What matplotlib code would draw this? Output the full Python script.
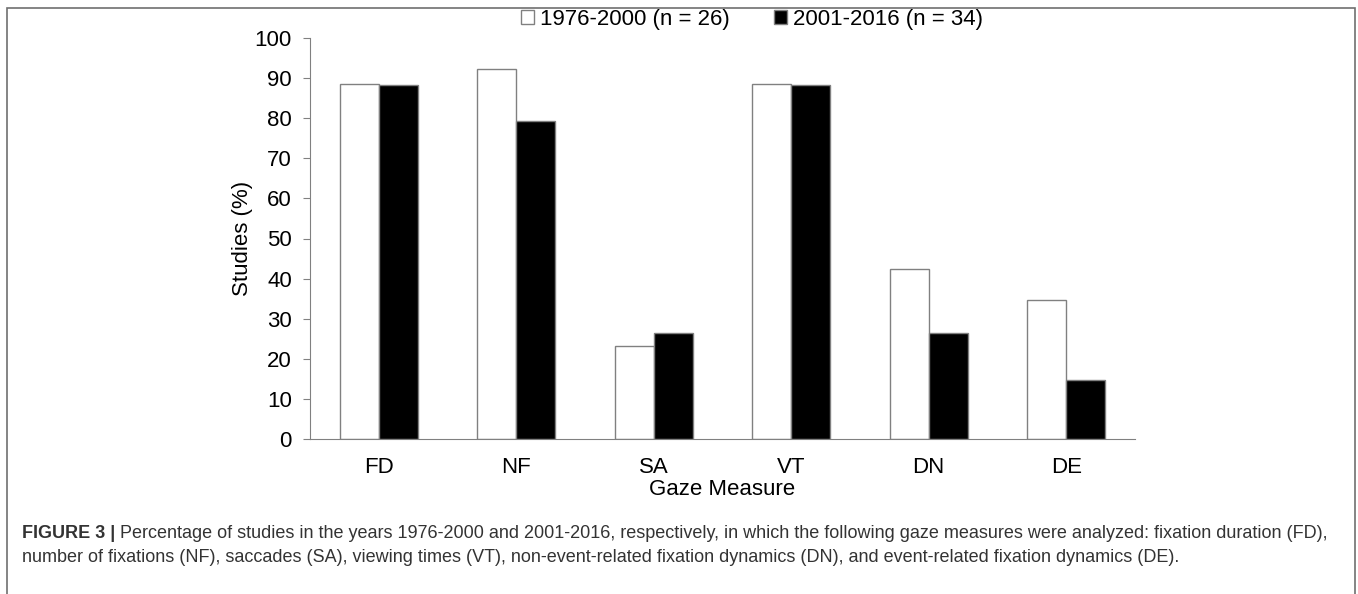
import matplotlib.pyplot as plt
import numpy as np
from matplotlib.patches import Rectangle

plt.rcParams['font.family'] = ['Liberation Sans', 'DejaVu Sans']

measures = ['FD', 'NF', 'SA', 'VT', 'DN', 'DE']
early = [88.5, 92.3, 23.1, 88.5, 42.3, 34.6]   # 1976-2000 (n = 26)
late = [88.2, 79.4, 26.5, 88.2, 26.5, 14.7]    # 2001-2016 (n = 34)
series_labels = ['1976-2000 (n = 26)', '2001-2016 (n = 34)']

W, H = 1358, 594
fig = plt.figure(figsize=(W / 100, H / 100), dpi=100)
ax = fig.add_axes([310 / W, 1 - 439 / H, 825 / W, 401 / H])

x = np.arange(len(measures))
w = 0.285
edge = '#808080'
ax.bar(x - w / 2, early, w, color='white', edgecolor=edge, linewidth=1, label=series_labels[0])
ax.bar(x + w / 2, late, w, color='black', edgecolor=edge, linewidth=1, label=series_labels[1])

ax.set_xlim(-0.5, len(measures) - 0.5)
ax.set_ylim(0, 100)
ax.set_yticks(range(0, 101, 10))
ax.set_xticks(x)
ax.set_xticklabels(measures)
ax.tick_params(axis='both', labelsize=16, colors='black')
ax.tick_params(axis='y', length=5, color=edge, pad=8)
ax.tick_params(axis='x', length=0, pad=13)
for s in ['top', 'right']:
    ax.spines[s].set_visible(False)
for s in ['left', 'bottom']:
    ax.spines[s].set_color(edge)
ax.set_xlabel('Gaze Measure', fontsize=16, labelpad=1)
ax.set_ylabel('Studies (%)', fontsize=16, labelpad=1)

ax.legend(loc='center', bbox_to_anchor=(752 / W, 1 - 19 / H), bbox_transform=fig.transFigure,
          ncol=2, frameon=False, fontsize=16, handlelength=0.6, handleheight=0.6,
          handletextpad=0.25, columnspacing=2.0, borderpad=0)

# outer frame (bottom edge runs past the image)
fig.patches.append(Rectangle((7 / W, -0.05), 1348 / W, 1.05 - 8 / H,
                             transform=fig.transFigure, fill=False, edgecolor='#707070', linewidth=1.2))

# caption
cap_color = '#333333'
cap_size = 12.95
bold = fig.text(22 / W, 1 - 533 / H, 'FIGURE 3 |', fontsize=cap_size, fontweight='bold',
                color=cap_color, va='center')
fig.canvas.draw()
bb = bold.get_window_extent()
fig.text((bb.x1 + 5) / W, 1 - 533 / H,
         'Percentage of studies in the years 1976-2000 and 2001-2016, respectively, '
         'in which the following gaze measures were analyzed: fixation duration (FD),',
         fontsize=cap_size, color=cap_color, va='center')
fig.text(22 / W, 1 - 557 / H, 'number of fixations (NF), saccades (SA), viewing times (VT), '
         'non-event-related fixation dynamics (DN), and event-related fixation dynamics (DE).',
         fontsize=cap_size, color=cap_color, va='center')

fig.savefig('out.png', dpi=100)
